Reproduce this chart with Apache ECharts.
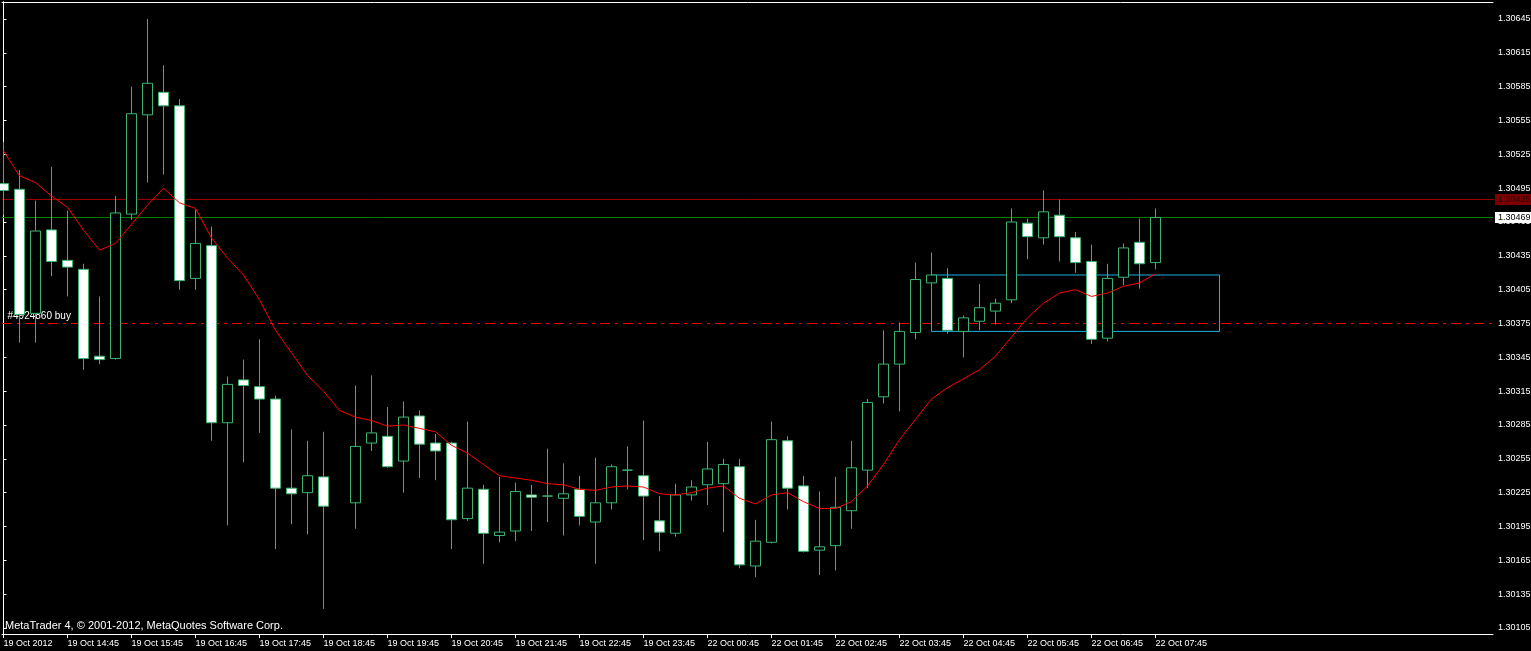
<!DOCTYPE html>
<html>
<head>
<meta charset="utf-8">
<script src="https://cdn.jsdelivr.net/npm/echarts@6/dist/echarts.min.js"></script>
<style>
html,body{margin:0;padding:0;background:#000;}
#chart{width:1531px;height:651px;}
</style>
</head>
<body>
<div id="chart"></div>
<script>
// 15-minute EURUSD bars, index 0 = 19 Oct 13:45 ... index 72 = 22 Oct 07:45 (index 21 not drawn)
const open = [1.30499,1.30494,1.30384,1.30458,1.30431,1.30423,1.30346,1.30344,1.30472,1.30560,
  1.30580,1.30568,1.30415,1.30444,1.30287,1.30325,1.30319,1.30308,1.30229,1.30225,
  1.30239,null,1.30216,1.30269,1.30275,1.30253,1.30293,1.30269,1.30269,1.30202,
  1.30228,1.30187,1.30191,1.30223,1.30222,1.30220,1.30228,1.30199,1.30216,1.30245,
  1.30240,1.30200,1.30189,1.30223,1.30232,1.30233,1.30248,1.30160,1.30181,1.30271,
  1.30231,1.30174,1.30178,1.30209,1.30245,1.30310,1.30339,1.30367,1.30411,1.30415,
  1.30368,1.30377,1.30386,1.30396,1.30464,1.30451,1.30471,1.30451,1.30430,1.30362,
  1.30416,1.30447,1.30429];
const close = [1.30493,1.30383,1.30457,1.30430,1.30425,1.30344,1.30343,1.30473,1.30561,1.30588,
  1.30568,1.30413,1.30446,1.30287,1.30321,1.30320,1.30308,1.30229,1.30224,1.30240,
  1.30213,null,1.30266,1.30278,1.30248,1.30292,1.30268,1.30262,1.30201,1.30229,
  1.30189,1.30190,1.30226,1.30221,1.30222,1.30224,1.30204,1.30216,1.30248,1.30245,
  1.30222,1.30190,1.30223,1.30230,1.30246,1.30250,1.30161,1.30182,1.30272,1.30229,
  1.30173,1.30177,1.30212,1.30247,1.30305,1.30339,1.30368,1.30414,1.30418,1.30369,
  1.30380,1.30389,1.30393,1.30465,1.30452,1.30474,1.30452,1.30429,1.30361,1.30415,
  1.30442,1.30428,1.30469];
const low = [1.30471,1.30358,1.30358,1.30417,1.30399,1.30334,1.30339,1.30343,1.30467,1.30500,
  1.30507,1.30405,1.30405,1.30271,1.30196,1.30252,1.30278,1.30175,1.30197,1.30188,
  1.30122,null,1.30193,1.30262,1.30247,1.30225,1.30238,1.30236,1.30175,1.30200,
  1.30162,1.30181,1.30182,1.30191,1.30199,1.30187,1.30196,1.30162,1.30210,1.30228,
  1.30183,1.30173,1.30186,1.30218,1.30214,1.30190,1.30158,1.30150,1.30180,1.30210,
  1.30172,1.30152,1.30156,1.30193,1.30229,1.30304,1.30297,1.30361,1.30410,1.30366,
  1.30345,1.30369,1.30374,1.30393,1.30432,1.30445,1.30430,1.30420,1.30357,1.30359,
  1.30409,1.30406,1.30423];
const high = [1.30536,1.30511,1.30484,1.30514,1.30475,1.30428,1.30399,1.30488,1.30585,1.30645,
  1.30604,1.30574,1.30476,1.30461,1.30328,1.30343,1.30361,1.30311,1.30281,1.30271,
  1.30279,null,1.30320,1.30329,1.30301,1.30306,1.30298,1.30277,1.30270,1.30288,
  1.30232,1.30239,1.30234,1.30232,1.30264,1.30251,1.30240,1.30256,1.30250,1.30266,
  1.30289,1.30222,1.30233,1.30236,1.30270,1.30255,1.30255,1.30201,1.30288,1.30275,
  1.30240,1.30226,1.30239,1.30271,1.30308,1.30369,1.30376,1.30429,1.30438,1.30424,
  1.30382,1.30410,1.30397,1.30477,1.30468,1.30493,1.30485,1.30456,1.30445,1.30428,
  1.30446,1.30468,1.30477];
const ma = [1.30528,1.30506,1.30500,1.30488,1.30478,1.30458,1.30440,1.30446,1.30463,1.30480,
  1.30495,1.30482,1.30477,1.30451,1.30433,1.30418,1.30396,1.30369,1.30349,1.30329,
  1.30315,1.30298,1.30292,1.30289,1.30284,1.30285,1.30282,1.30279,1.30267,1.30260,
  1.30250,1.30240,1.30238,1.30236,1.30233,1.30232,1.30228,1.30227,1.30230,1.30231,
  1.30230,1.30224,1.30223,1.30225,1.30229,1.30231,1.30220,1.30215,1.30223,1.30225,
  1.30217,1.30211,1.30211,1.30217,1.30231,1.30250,1.30272,1.30290,1.30308,1.30318,
  1.30326,1.30334,1.30346,1.30363,1.30380,1.30393,1.30402,1.30405,1.30399,1.30402,
  1.30408,1.30411,1.30419];

const timeTickIndex = [0,4,8,12,16,20,24,28,32,36,40,44,48,52,56,60,64,68,72];
const timeTickLabels = ['19 Oct 2012','19 Oct 14:45','19 Oct 15:45','19 Oct 16:45','19 Oct 17:45',
  '19 Oct 18:45','19 Oct 19:45','19 Oct 20:45','19 Oct 21:45','19 Oct 22:45','19 Oct 23:45',
  '22 Oct 00:45','22 Oct 01:45','22 Oct 02:45','22 Oct 03:45','22 Oct 04:45','22 Oct 05:45',
  '22 Oct 06:45','22 Oct 07:45'];
const priceTicks = [1.30105,1.30135,1.30165,1.30195,1.30225,1.30255,1.30285,1.30315,1.30345,1.30375,
  1.30405,1.30435,1.30465,1.30495,1.30525,1.30555,1.30585,1.30615,1.30645];

const askPrice = 1.30485;
const bidPrice = 1.30469;
const orderPrice = 1.30375;
const orderLabel = '#4924860 buy';
const boxIndex = [58, 76];
const boxPrice = [1.30368, 1.30418];
const priceRange = [1.3009968, 1.3066007];
const indexRange = [-0.09375, 93.09375];
const footer = 'MetaTrader 4, \u00a9 2001-2012, MetaQuotes Software Corp.';

const candleData = [];
const maData = [];
for (let i = 0; i < open.length; i++) {
  if (open[i] != null) candleData.push([i, open[i], close[i], low[i], high[i]]);
  maData.push([i, ma[i]]);
}

const FONT = 'Liberation Sans, Arial, sans-serif';

function priceLine(price, color, dash, endLabel, startLabel) {
  const first = startLabel
    ? {value: [indexRange[0], price], label: startLabel}
    : [indexRange[0], price];
  return {
    type: 'line', xAxisIndex: 0, yAxisIndex: 0, z: 1, clip: false,
    data: [first, [indexRange[1], price]],
    symbol: 'circle', symbolSize: 1, showSymbol: true,
    itemStyle: {color: 'rgba(0,0,0,0)'},
    lineStyle: {color: color, width: 1, type: dash},
    label: {show: false},
    endLabel: endLabel || {show: false},
    emphasis: {disabled: true},
    silent: true
  };
}

const chart = echarts.init(document.getElementById('chart'), null, {renderer: 'canvas'});
chart.setOption({
  backgroundColor: '#000',
  animation: false,
  tooltip: {show: false},
  title: {
    text: footer, left: 5, top: 620, padding: 0,
    textStyle: {color: '#fff', fontSize: 11, fontWeight: 'normal', fontFamily: FONT}
  },
  grid: {left: 2, right: 38, top: 2, bottom: 17, show: false, containLabel: false, outerBoundsMode: 'none'},
  xAxis: [{
    type: 'value', min: indexRange[0], max: indexRange[1], position: 'bottom',
    axisLine: {show: true, lineStyle: {color: '#fff', width: 1}},
    axisTick: {show: true, customValues: timeTickIndex, length: 4, lineStyle: {color: '#fff'}},
    axisLabel: {
      show: true, customValues: timeTickIndex, color: '#fff', fontSize: 9, fontFamily: FONT,
      align: 'left', margin: 5,
      formatter: v => timeTickLabels[timeTickIndex.indexOf(Math.round(v))] || ''
    },
    splitLine: {show: false}
  }, {
    type: 'value', min: indexRange[0], max: indexRange[1], position: 'top',
    axisLine: {show: true, lineStyle: {color: '#fff', width: 1}},
    axisTick: {show: false}, axisLabel: {show: false}, splitLine: {show: false}
  }],
  yAxis: [{
    type: 'value', min: priceRange[0], max: priceRange[1], position: 'right',
    axisLine: {show: true, lineStyle: {color: '#fff', width: 1}},
    axisTick: {show: true, customValues: priceTicks, length: 3, lineStyle: {color: '#fff'}},
    axisLabel: {
      show: true, customValues: priceTicks, color: '#fff', fontSize: 9, fontFamily: FONT,
      margin: 5, formatter: v => v.toFixed(5)
    },
    splitLine: {show: false}
  }, {
    type: 'value', min: priceRange[0], max: priceRange[1], position: 'left',
    axisLine: {show: true, lineStyle: {color: '#fff', width: 1}},
    axisTick: {show: false}, axisLabel: {show: false}, splitLine: {show: false}
  }],
  series: [
    priceLine(orderPrice, '#ff0000', [10, 5, 3, 5], null,
      {show: true, position: [6, -12], align: 'left', verticalAlign: 'top',
       formatter: orderLabel, color: '#fff', fontSize: 10, fontFamily: FONT}),
    priceLine(askPrice, '#a00000', 'solid',
      {show: true, distance: 2, formatter: askPrice.toFixed(5),
       color: '#2a0000', backgroundColor: '#7d0000', fontSize: 9, fontFamily: FONT,
       padding: [1, 3, 0, 3], lineHeight: 10}),
    priceLine(bidPrice, '#008000', 'solid',
      {show: true, distance: 2, formatter: bidPrice.toFixed(5),
       color: '#000', backgroundColor: '#fff', fontSize: 9, fontFamily: FONT,
       padding: [1, 3, 0, 3], lineHeight: 10}),
    {
      type: 'line', xAxisIndex: 0, yAxisIndex: 0, z: 1, silent: true,
      data: [[boxIndex[0], boxPrice[1]], [boxIndex[1], boxPrice[1]], [boxIndex[1], boxPrice[0]],
             [boxIndex[0], boxPrice[0]], [boxIndex[0], boxPrice[1]]],
      symbol: 'none',
      lineStyle: {color: '#1fb0e4', width: 1}
    },
    {
      type: 'candlestick',
      xAxisIndex: 0, yAxisIndex: 0,
      data: candleData,
      barWidth: 10,
      clip: true,
      z: 2,
      itemStyle: {
        color: '#000', color0: '#fff',
        borderColor: '#3cb371', borderColor0: '#3cb371', borderWidth: 1
      }
    }, {
      type: 'line',
      xAxisIndex: 0, yAxisIndex: 0,
      data: maData,
      symbol: 'none',
      clip: true,
      lineStyle: {color: '#ff0000', width: 1},
      z: 3
    }
  ]
});
</script>
</body>
</html>
